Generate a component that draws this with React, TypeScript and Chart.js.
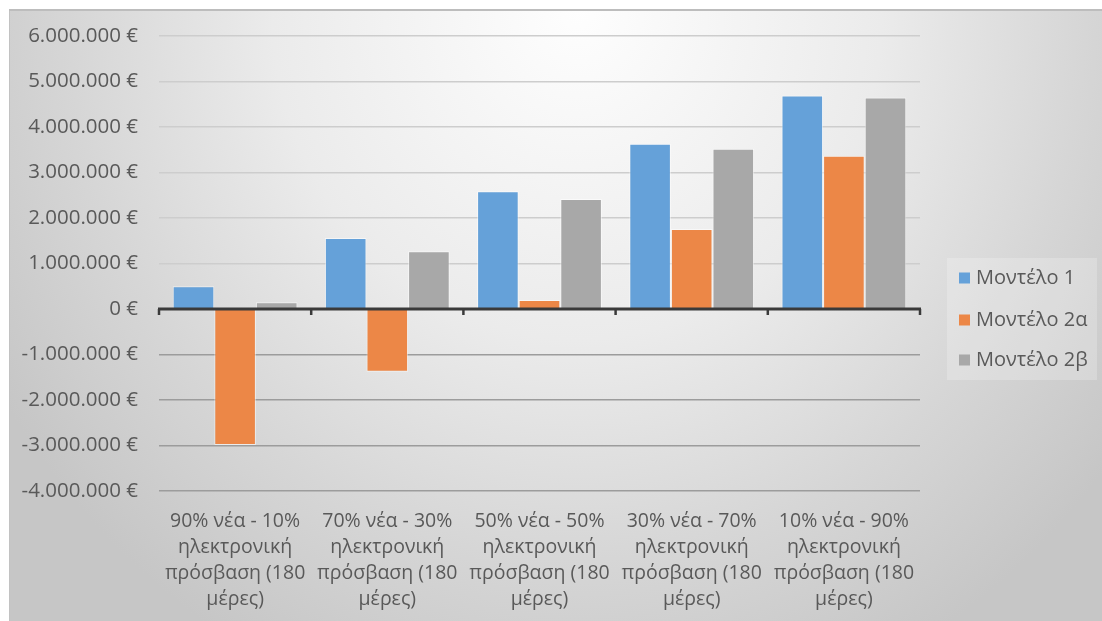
import React, { useEffect, useRef } from "react";
import { Chart, registerables } from "chart.js";

Chart.register(...registerables);

const categories: string[][] = [
  ["90% νέα - 10%", "ηλεκτρονική", "πρόσβαση (180", "μέρες)"],
  ["70% νέα - 30%", "ηλεκτρονική", "πρόσβαση (180", "μέρες)"],
  ["50% νέα - 50%", "ηλεκτρονική", "πρόσβαση (180", "μέρες)"],
  ["30% νέα - 70%", "ηλεκτρονική", "πρόσβαση (180", "μέρες)"],
  ["10% νέα - 90%", "ηλεκτρονική", "πρόσβαση (180", "μέρες)"],
];

const seriesNames = ["Μοντέλο 1", "Μοντέλο 2α", "Μοντέλο 2β"];
const model1 = [500000, 1560000, 2590000, 3630000, 4690000];
const model2a = [-2990000, -1380000, 200000, 1760000, 3370000];
const model2b = [150000, 1270000, 2420000, 3520000, 4650000];
const seriesColors = ["#65a1d9", "#ec8747", "#a8a8a8"];

const yMin = -4000000;
const yMax = 6000000;
const yStep = 1000000;

const FONT = "'Open Sans', 'Liberation Sans', sans-serif";
const TEXT = "#595959";

function formatEuro(v: number): string {
  const neg = v < 0;
  const s = Math.round(Math.abs(v)).toString().replace(/\B(?=(\d{3})+(?!\d))/g, ".");
  return (neg ? "-" : "") + s + " €";
}

const zeroLinePlugin = {
  id: "zeroLine",
  afterDatasetsDraw(chart: any) {
    const { ctx, scales } = chart;
    const x = scales.x;
    const y = scales.y;
    const y0 = y.getPixelForValue(0);
    ctx.save();
    ctx.strokeStyle = "#3a3a3a";
    ctx.lineWidth = 3;
    ctx.beginPath();
    ctx.moveTo(x.left - 1, y0);
    ctx.lineTo(x.right + 1, y0);
    ctx.stroke();
    ctx.lineWidth = 2.5;
    const n = chart.data.labels.length;
    const w = (x.right - x.left) / n;
    for (let i = 0; i <= n; i++) {
      const px = x.left + i * w;
      ctx.beginPath();
      ctx.moveTo(px, y0);
      ctx.lineTo(px, y0 + 6);
      ctx.stroke();
    }
    ctx.restore();
  },
};

const legendPlugin = {
  id: "customLegend",
  afterDraw(chart: any) {
    const { ctx } = chart;
    const bx = 938;
    const by = 249;
    const bw = 150;
    const bh = 122;
    ctx.save();
    ctx.fillStyle = "rgba(255,255,255,0.22)";
    ctx.fillRect(bx, by, bw, bh);
    const ys = [269, 311, 351];
    chart.data.datasets.forEach((ds: any, i: number) => {
      ctx.fillStyle = ds.backgroundColor;
      ctx.fillRect(bx + 12, ys[i] - 5.5, 11, 11);
      ctx.fillStyle = TEXT;
      ctx.font = `20px ${FONT}`;
      ctx.textBaseline = "middle";
      ctx.textAlign = "left";
      ctx.fillText(ds.label, bx + 29, ys[i]);
    });
    ctx.restore();
  },
};

export default function App() {
  const ref = useRef<HTMLCanvasElement | null>(null);

  useEffect(() => {
    if (!ref.current) return;
    const values = [model1, model2a, model2b];
    const chart = new Chart(ref.current, {
      type: "bar",
      data: {
        labels: categories as any,
        datasets: seriesNames.map((name, i) => ({
          label: name,
          data: values[i],
          backgroundColor: seriesColors[i],
          borderColor: "rgba(255,255,255,0.55)",
          borderWidth: 1,
          categoryPercentage: 0.82,
          barPercentage: 1.0,
        })),
      },
      options: {
        responsive: false,
        animation: false,
        layout: { padding: { top: 27, right: 182, left: 0, bottom: 0 } },
        plugins: {
          legend: { display: false },
          tooltip: { enabled: false },
        },
        scales: {
          x: {
            grid: { display: false, drawTicks: false },
            border: { display: false },
            ticks: {
              autoSkip: false,
              maxRotation: 0,
              minRotation: 0,
              padding: 18,
              color: TEXT,
              font: { family: FONT, size: 19.5, lineHeight: 1.32 },
            },
            afterFit(scale: any) {
              scale.height = 130;
            },
          },
          y: {
            min: yMin,
            max: yMax,
            border: { display: false },
            grid: {
              drawTicks: true,
              tickLength: 18,
              tickColor: "rgba(0,0,0,0)",
              lineWidth: 1.6,
              color: (c: any) => {
                const v = c.tick ? c.tick.value : 0;
                if (v === 0) return "rgba(0,0,0,0)";
                if (v < 0) return "#9c9c9c";
                return "#cdcdcd";
              },
            },
            ticks: {
              stepSize: yStep,
              padding: 3,
              color: TEXT,
              font: { family: FONT, size: 20.5 },
              callback: (v: any) => formatEuro(Number(v)),
            },
            afterFit(scale: any) {
              scale.width = 150;
            },
          },
        },
      },
      plugins: [zeroLinePlugin, legendPlugin],
    });
    return () => chart.destroy();
  }, []);

  return (
    <div
      style={{
        position: "absolute",
        left: 9,
        top: 9,
        width: 1093,
        height: 612,
        overflow: "hidden",
        background:
          "radial-gradient(ellipse 62% 120% at 52% 0%, #fefefe 0%, #ebebeb 45%, #d6d6d6 75%, #c6c6c6 100%)",
        boxShadow: "inset 0 2px 0 #bdbdbd, inset 1px 0 0 #c2c2c2",
      }}
    >
      <canvas
        ref={ref}
        width={1093}
        height={612}
        style={{ display: "block", width: 1093, height: 612 }}
      />
    </div>
  );
}
